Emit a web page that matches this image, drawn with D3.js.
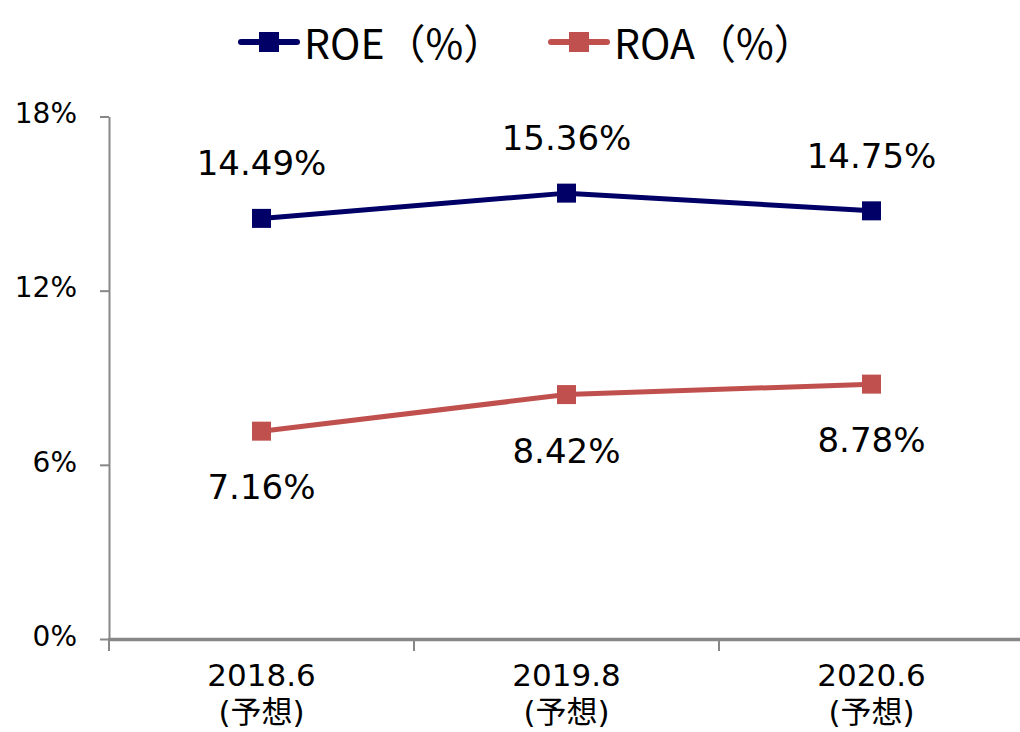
<!DOCTYPE html>
<html>
<head>
<meta charset="utf-8">
<script src="https://cdn.jsdelivr.net/npm/d3@7"></script>
<style>
  body { margin: 0; background: #fff; }
  svg { display: block; }
</style>
</head>
<body>
<div id="chart"></div>
<script>
const categories = ["2018.6", "2019.8", "2020.6"];
const subLabels = ["(予想)", "(予想)", "(予想)"];
const roe = [14.49, 15.36, 14.75];
const roa = [7.16, 8.42, 8.78];
const yTicks = [0, 6, 12, 18];

const width = 1020;
const height = 732;
const numFont = "Verdana, 'DejaVu Sans', 'Noto Sans CJK JP', sans-serif";
const cjkFont = "'Noto Sans CJK JP', 'Noto Sans', sans-serif";
const axisColor = "#878787";

const series = [
  { name: "ROE（%）", values: roe, color: "#000066", labelDy: -43 },
  { name: "ROA（%）", values: roa, color: "#c0504d", labelDy: 68 }
];

const svg = d3
  .select("#chart")
  .append("svg")
  .attr("width", width)
  .attr("height", height);

const xScale = d3.scaleBand().domain(categories).range([109, 1024]).padding(0);
const yScale = d3.scaleLinear().domain([0, 18]).range([639, 116.5]);

// y axis
const yAxis = d3
  .axisLeft(yScale)
  .tickValues(yTicks)
  .tickFormat((d) => d + "%")
  .tickSize(9)
  .tickSizeOuter(0)
  .tickPadding(23);

const gy = svg.append("g").attr("transform", "translate(109,0)").call(yAxis);
gy.select(".domain").attr("stroke", axisColor).attr("stroke-width", 2);
gy.selectAll(".tick line").attr("stroke", axisColor).attr("stroke-width", 2);
gy.selectAll(".tick text")
  .attr("fill", "#000")
  .attr("dy", "0.22em")
  .style("font-family", numFont)
  .style("font-size", "28px");

// x axis line and boundary ticks
svg
  .append("line")
  .attr("x1", xScale.range()[0] - 1)
  .attr("x2", xScale.range()[1])
  .attr("y1", yScale(0) + 0.5)
  .attr("y2", yScale(0) + 0.5)
  .attr("stroke", axisColor)
  .attr("stroke-width", 3.5);

const bounds = categories.map((c) => xScale(c));
svg
  .selectAll(".xtick")
  .data(bounds)
  .enter()
  .append("line")
  .attr("class", "xtick")
  .attr("x1", (d) => d)
  .attr("x2", (d) => d)
  .attr("y1", yScale(0))
  .attr("y2", yScale(0) + 12)
  .attr("stroke", axisColor)
  .attr("stroke-width", 2);

// category labels (two lines)
const catX = (d) => xScale(d) + xScale.bandwidth() / 2;

svg
  .selectAll(".cat")
  .data(categories)
  .enter()
  .append("text")
  .attr("class", "cat")
  .attr("x", catX)
  .attr("y", 686)
  .attr("text-anchor", "middle")
  .style("font-family", numFont)
  .style("font-size", "31px")
  .attr("fill", "#000")
  .text((d) => d);

svg
  .selectAll(".cat2")
  .data(categories)
  .enter()
  .append("text")
  .attr("class", "cat2")
  .attr("x", catX)
  .attr("y", 723)
  .attr("text-anchor", "middle")
  .style("font-family", numFont)
  .style("font-size", "31px")
  .attr("fill", "#000")
  .text((d, i) => subLabels[i]);

// lines, markers, labels
const line = d3
  .line()
  .x((d, i) => xScale(categories[i]) + xScale.bandwidth() / 2)
  .y((d) => yScale(d));

series.forEach((s) => {
  svg
    .append("path")
    .datum(s.values)
    .attr("d", line)
    .attr("fill", "none")
    .attr("stroke", s.color)
    .attr("stroke-width", 5);

  svg
    .selectAll(null)
    .data(s.values)
    .enter()
    .append("rect")
    .attr("x", (d, i) => xScale(categories[i]) + xScale.bandwidth() / 2 - 9.5)
    .attr("y", (d) => yScale(d) - 9.5)
    .attr("width", 19)
    .attr("height", 19)
    .attr("fill", s.color);

  svg
    .selectAll(null)
    .data(s.values)
    .enter()
    .append("text")
    .attr("x", (d, i) => xScale(categories[i]) + xScale.bandwidth() / 2)
    .attr("y", (d) => yScale(d) + s.labelDy)
    .attr("text-anchor", "middle")
    .style("font-family", numFont)
    .style("font-size", "34px")
    .attr("fill", "#000")
    .text((d) => d.toFixed(2) + "%");
});

// legend
const legendX = [238, 548];
const legend = svg
  .selectAll(".legend")
  .data(series)
  .enter()
  .append("g")
  .attr("class", "legend")
  .attr("transform", (d, i) => `translate(${legendX[i]},42)`);

legend
  .append("line")
  .attr("x1", 3)
  .attr("x2", 59)
  .attr("stroke", (d) => d.color)
  .attr("stroke-width", 6)
  .attr("stroke-linecap", "round");

legend
  .append("rect")
  .attr("x", 21)
  .attr("y", -10)
  .attr("width", 20)
  .attr("height", 20)
  .attr("fill", (d) => d.color);

legend
  .append("text")
  .attr("x", 66)
  .attr("y", 8)
  .style("font-family", cjkFont)
  .style("font-size", "41px")
  .attr("fill", "#000")
  .attr("dy", "0.22em")
  .text((d) => d.name);
</script>
</body>
</html>
